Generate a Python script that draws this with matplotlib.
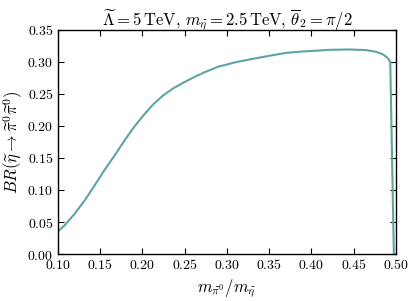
import matplotlib
matplotlib.use("Agg")
import matplotlib.pyplot as plt

plt.rcParams['mathtext.fontset'] = 'cm'
plt.rcParams['font.family'] = 'serif'
plt.rcParams['font.serif'] = ['DejaVu Serif']

mass_ratio = [0.100, 0.1086, 0.1204, 0.1322, 0.144, 0.1558, 0.1676, 0.1775, 0.1893,
              0.2011, 0.2129, 0.2247, 0.2365, 0.2483, 0.262, 0.2738, 0.2895, 0.3092,
              0.3289, 0.3505, 0.3702, 0.3898, 0.4095, 0.4213, 0.4449, 0.4646,
              0.4764, 0.4842, 0.4901, 0.4933, 0.4976]
branching = [0.0348, 0.0452, 0.0635, 0.0842, 0.1076, 0.132, 0.1544, 0.1742, 0.1965,
             0.2160, 0.2335, 0.2475, 0.2585, 0.2672, 0.2766, 0.2838, 0.2922, 0.299,
             0.3042, 0.3095, 0.314, 0.3162, 0.3177, 0.3187, 0.3193, 0.3183,
             0.3156, 0.312, 0.3063, 0.300, 0.0]

x_ticks = [0.10, 0.15, 0.20, 0.25, 0.30, 0.35, 0.40, 0.45, 0.50]
y_ticks = [0.00, 0.05, 0.10, 0.15, 0.20, 0.25, 0.30, 0.35]

fig = plt.figure(figsize=(4.15, 3.01), dpi=100)
ax = fig.add_axes([0.139, 0.156, 0.815, 0.745])
ax.plot(mass_ratio, branching, color='#5fa3a3', lw=1.5)
ax.set_xlim(0.10, 0.50)
ax.set_ylim(0.0, 0.35)
ax.set_xticks(x_ticks)
ax.set_yticks(y_ticks)
ax.set_xticklabels([f'${t:.2f}$' for t in x_ticks])
ax.set_yticklabels([f'${t:.2f}$' for t in y_ticks])
ax.tick_params(direction='in', top=True, right=True, labelsize=10, length=4, pad=3)
for s in ax.spines.values():
    s.set_linewidth(1.0)
ax.set_xlabel(r'$m_{\widetilde{\pi}^0}/m_{\widetilde{\eta}}$', fontsize=12)
ax.set_ylabel(r'$BR(\widetilde{\eta}\to\widetilde{\pi}^0\widetilde{\pi}^0)$', fontsize=12, labelpad=2)
ax.set_title(r'$\widetilde{\Lambda}=5\,\mathrm{TeV},\,m_{\widetilde{\eta}}=2.5\,\mathrm{TeV},\,\overline{\theta}_2=\pi/2$', fontsize=12, pad=4)
fig.savefig('out.png', dpi=100)
